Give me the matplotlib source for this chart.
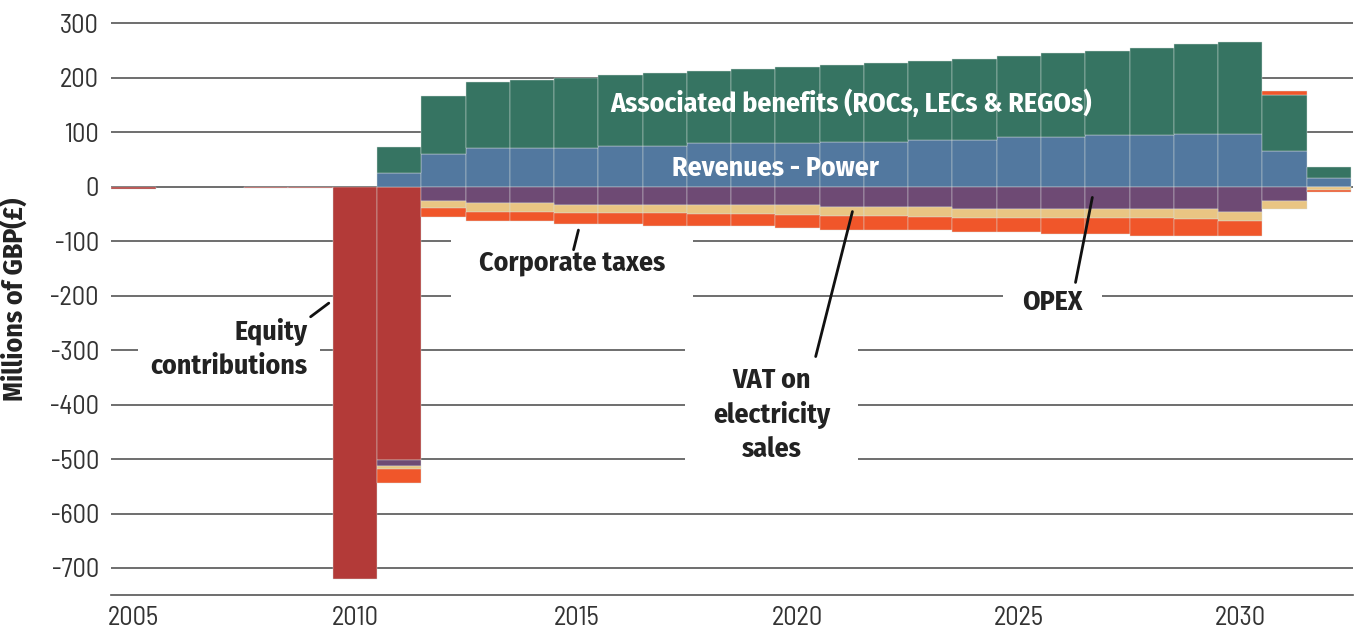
import numpy as np
import matplotlib.pyplot as plt
from matplotlib import font_manager

# Data (millions of GBP)
years = list(range(2005, 2033))
equity = [-4, 0, 0, -3, -3, -720, -502] + [0] * 21
revenues = [0] * 6 + [25, 60, 71, 71, 71, 75, 75, 79, 79, 79, 82,
                      82, 86, 86, 90, 90, 94, 94, 97, 97, 65, 15]
benefits = [0] * 6 + [47, 106, 121, 124, 129, 129, 133, 133, 137, 140, 141,
                      145, 144, 148, 149, 155, 155, 160, 164, 169, 103, 21]
opex = [0] * 6 + [-11, -27, -31, -31, -34, -34, -34, -34, -34, -34, -37,
                  -37, -37, -41, -41, -41, -41, -41, -41, -46, -27, -1]
vat = [0] * 6 + [-5, -12, -15, -15, -15, -15, -15, -16, -16, -18, -17,
                 -17, -19, -16, -16, -16, -16, -16, -18, -18, -15, -5]
corp_tax = [0] * 6 + [-26, -17, -18, -18, -20, -20, -23, -23, -23, -25, -26,
                      -26, -24, -26, -26, -30, -30, -34, -32, -27, 8, -4]

yticks = list(range(-700, 301, 100))
xticks = [2005, 2010, 2015, 2020, 2025, 2030]

# pick condensed fonts when present
names = {f.name for f in font_manager.fontManager.ttflist}
def pick(prefs):
    for p in prefs:
        if p in names:
            return p, True
    return 'DejaVu Sans', False

label_font, ok1 = pick(['Fira Sans Condensed', 'Roboto Condensed', 'Barlow Semi Condensed',
                        'Archivo Narrow', 'Asap Condensed'])
tick_font, ok2 = pick(['Barlow Semi Condensed', 'Roboto Condensed', 'Fira Sans Condensed',
                       'Archivo Narrow', 'Asap Condensed'])
ls = 1.0 if ok1 else 0.8
ts = 1.0 if ok2 else 0.8

plt.rcParams['font.family'] = [tick_font, 'DejaVu Sans']
plt.rcParams['axes.unicode_minus'] = False

fig = plt.figure(figsize=(13.54, 6.35), dpi=100)
ax = fig.add_axes([0.0823, 0.0626, 0.917, 0.9312])

series = [
    (equity, '#b33a38'),
    (revenues, '#52789f'),
    (benefits, '#367462'),
    (opex, '#6e4a74'),
    (vat, '#e9c583'),
    (corp_tax, '#f0562a'),
]

x = np.array(years)
pos = np.zeros(len(x))
neg = np.zeros(len(x))
for vals, color in series:
    v = np.array(vals, dtype=float)
    bottom = np.where(v >= 0, pos, neg)
    m = v != 0
    ax.bar(x[m], v[m], bottom=bottom[m], width=1.0, color=color,
           edgecolor='#d8dedb', linewidth=0.3, zorder=3)
    pos += np.clip(v, 0, None)
    neg += np.clip(v, None, 0)

# gridlines
for t in yticks:
    ax.axhline(t, color='#555555', lw=1.2, zorder=1)

ax.set_xlim(2004.5, 2032.55)
ax.set_ylim(-750, 335)
ax.set_yticks(yticks)
ax.set_xticks(xticks)
ax.tick_params(length=0, labelsize=19 * ts, labelcolor='#333333')
ax.tick_params(axis='y', pad=9)
ax.tick_params(axis='x', pad=8)
for s in ['top', 'right', 'left']:
    ax.spines[s].set_visible(False)
ax.spines['bottom'].set_color('#555555')
ax.spines['bottom'].set_linewidth(1.2)
ax.set_ylabel('Millions of GBP(£)', fontsize=20 * ls, fontweight='bold',
              color='#222222', family=[label_font, 'DejaVu Sans'])
ax.yaxis.set_label_coords(-0.067, 0.5)

# labels inside bars
ax.text(2021.22, 153, 'Associated benefits (ROCs, LECs & REGOs)', color='white',
        fontsize=20 * ls, fontweight='bold', ha='center', va='center', zorder=5,
        family=[label_font, 'DejaVu Sans'])
ax.text(2019.5, 34, 'Revenues - Power', color='white',
        fontsize=20 * ls, fontweight='bold', ha='center', va='center', zorder=5,
        family=[label_font, 'DejaVu Sans'])

# callouts with white boxes that break the gridlines
def callout(xt, yt, s, ha, pad, tip, tail):
    ax.text(xt, yt, s, fontsize=20 * ls, fontweight='bold', color='#222222',
            ha=ha, va='center', linespacing=1.35, zorder=2,
            family=[label_font, 'DejaVu Sans'],
            bbox=dict(boxstyle='square,pad=%s' % pad, facecolor='white',
                      edgecolor='none'))
    ax.annotate('', xy=tip, xytext=tail, zorder=6,
                arrowprops=dict(arrowstyle='-', lw=2, color='#111111',
                                shrinkA=0, shrinkB=0))

callout(2014.9, -140, 'Corporate taxes', 'center', 1.0, (2015.05, -80), (2014.94, -116))
callout(2008.93, -298, 'Equity\ncontributions', 'right', 0.45, (2009.41, -214), (2009.0, -239))
callout(2019.41, -419, 'VAT on\nelectricity\nsales', 'center', 1.0, (2021.24, -46), (2020.41, -312))
callout(2025.76, -212, 'OPEX', 'center', 0.7, (2026.66, -20), (2026.28, -176))

fig.savefig('out.png', dpi=100)
